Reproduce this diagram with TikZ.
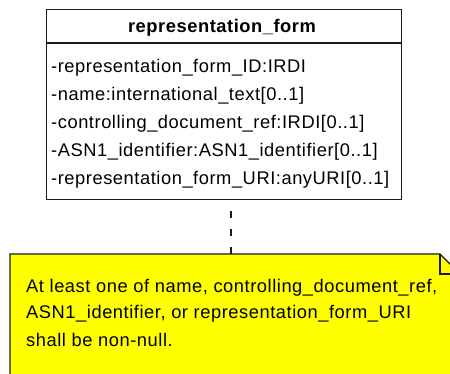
\documentclass[tikz,border=0pt]{standalone}
\usepackage{fontspec}
\setmainfont{Liberation Sans}[LetterSpace=3]
\definecolor{noteyellow}{HTML}{FFFF00}
\definecolor{umlline}{HTML}{1A1A1A}
\begin{document}
\begin{tikzpicture}[x=1pt,y=-1pt,
  umltxt/.style={font=\fontsize{18.3}{20}\selectfont, inner sep=0pt, anchor=base west},
  umltitle/.style={font=\fontsize{18.3}{20}\selectfont\bfseries, inner sep=0pt, anchor=base},
  boxline/.style={draw=umlline, line width=1.3pt},
  link/.style={draw=umlline, line width=1.3pt, dash pattern=on 7pt off 11pt}]
\useasboundingbox (0,0) rectangle (450,374);
\clip (0,0) rectangle (450,374);
% class box
\node[boxline, fill=white, minimum width=355pt, minimum height=190pt, inner sep=0pt, anchor=north west] (cls) at (46,9) {};
\coordinate (sepL) at (46,43);
\coordinate (sepR) at (401,43);
\draw[boxline] (sepL) -- (sepR);
\node[umltitle] (title) at (222,33) {representation\_form};
\node[umltxt] (a1) at (51,73) {-representation\_form\_ID:IRDI};
\node[umltxt] (a2) at (51,101) {-name:international\_text[0..1]};
\node[umltxt] (a3) at (51,129) {-controlling\_document\_ref:IRDI[0..1]};
\node[umltxt] (a4) at (51,157) {-ASN1\_identifier:ASN1\_identifier[0..1]};
\node[umltxt] (a5) at (51,185) {-representation\_form\_URI:anyURI[0..1]};
% note
\node[minimum width=450pt, minimum height=140pt, inner sep=0pt, anchor=north west] (note) at (10,254) {};
\fill[noteyellow] (note.north west) -- (440,254) -- (460,274) -- (note.south east) -- (note.south west) -- cycle;
\draw[boxline] (note.south west) -- (note.north west) -- (440,254) -- (460,274);
\draw[boxline] (440,254) -- (440,274) -- (460,274);
\node[umltxt] (n1) at (26,292) {At least one of name, controlling\_document\_ref,};
\node[umltxt] (n2) at (26,319) {ASN1\_identifier, or representation\_form\_URI};
\node[umltxt] (n3) at (26,346) {shall be non-null.};
% connector
\draw[link] (note.north -| 231,0) -- (cls.south -| 231,0);
\end{tikzpicture}
\end{document}
